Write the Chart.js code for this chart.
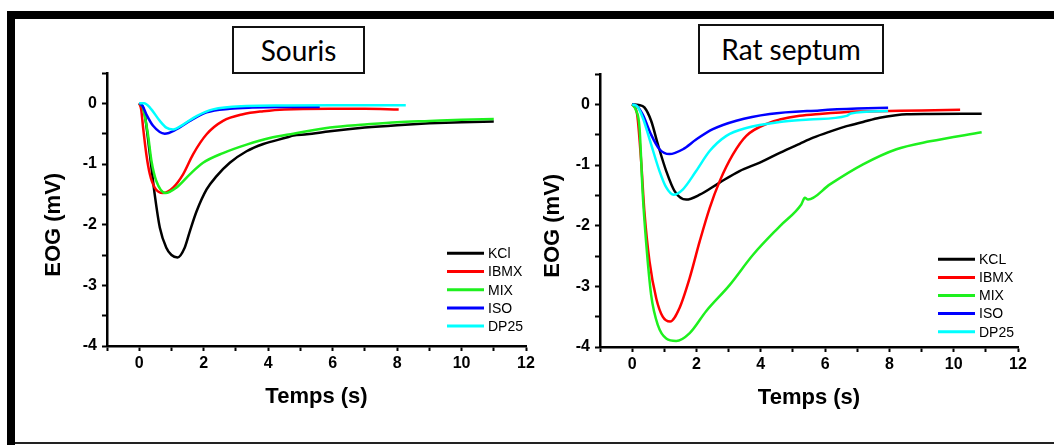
<!DOCTYPE html>
<html>
<head>
<meta charset="utf-8">
<script src="https://cdn.jsdelivr.net/npm/chart.js@4.4.1/dist/chart.umd.min.js"></script>
<style>
  body { margin: 0; background: #fff; width: 1054px; height: 445px; overflow: hidden; position: relative; }
  .bar { position: absolute; background: #000; }
  .box { position: absolute; box-sizing: border-box; border: 2px solid #111; background: #fff;
         font-family: Lato, "Open Sans", sans-serif; font-size: 28px; color: #000;
         display: flex; align-items: center; justify-content: center; }
  canvas { position: absolute; }
</style>
</head>
<body>
<div class="bar" style="left:7px;top:11px;width:1047px;height:8px"></div>
<div class="bar" style="left:7px;top:11px;width:8px;height:434px"></div>
<div class="bar" style="left:15px;top:442px;width:1039px;height:2px;background:#222"></div>

<div class="box" style="left:232px;top:26px;width:133px;height:48px">Souris</div>
<div class="box" style="left:698px;top:24px;width:186px;height:50px">Rat septum</div>

<canvas id="souris" width="505" height="390" style="left:41px;top:20px"></canvas>
<canvas id="rat" width="498" height="391" style="left:540px;top:20px"></canvas>

<script>
const seriesNames = ["KCl", "IBMX", "MIX", "ISO", "DP25"]
const ratNames = ["KCL", "IBMX", "MIX", "ISO", "DP25"]
const seriesColors = ["#000000", "#ff0000", "#1ef01e", "#0000ff", "#00ffff"]

const xTicks = [0, 2, 4, 6, 8, 10, 12]
const yTicks = [0, -1, -2, -3, -4]

// Souris
const souKclT = [0, 0.1, 0.17, 0.33, 0.48, 0.64, 0.84, 1.0, 1.19, 1.41, 1.57, 1.78, 2.09, 2.4, 2.81, 3.33, 3.85, 4.6, 4.78, 5.2, 5.92, 7, 8, 9, 10, 11]
const souKclV = [0, -0.05, -0.18, -0.84, -1.5, -2.05, -2.38, -2.5, -2.54, -2.38, -2.11, -1.78, -1.42, -1.2, -0.98, -0.79, -0.67, -0.56, -0.53, -0.51, -0.46, -0.4, -0.36, -0.33, -0.31, -0.3]
const souIbmxT = [0, 0.06, 0.12, 0.22, 0.33, 0.48, 0.74, 1.05, 1.36, 1.67, 2.09, 2.6, 3.22, 3.85, 4.5, 5.9, 7, 8.05]
const souIbmxV = [0, -0.1, -0.4, -0.84, -1.17, -1.39, -1.48, -1.39, -1.17, -0.84, -0.51, -0.29, -0.18, -0.13, -0.1, -0.09, -0.09, -0.1]
const souMixT = [0, 0.1, 0.17, 0.27, 0.38, 0.53, 0.82, 1.15, 1.57, 1.98, 2.6, 3.33, 4.05, 4.78, 5.92, 7, 8, 9, 10, 11]
const souMixV = [0, -0.05, -0.2, -0.51, -0.95, -1.28, -1.48, -1.39, -1.17, -0.98, -0.82, -0.68, -0.57, -0.5, -0.4, -0.35, -0.31, -0.29, -0.27, -0.26]
const souIsoT = [0, 0.1, 0.22, 0.43, 0.79, 1.15, 1.57, 2.09, 2.81, 3.5, 4.5, 5.6]
const souIsoV = [0, -0.04, -0.18, -0.37, -0.5, -0.43, -0.29, -0.15, -0.09, -0.07, -0.06, -0.06]
const souDpT = [0, 0.15, 0.33, 0.64, 0.84, 1.05, 1.36, 1.78, 2.29, 3.33, 4.5, 6, 7, 8.27]
const souDpV = [0, 0, -0.07, -0.29, -0.4, -0.43, -0.35, -0.21, -0.1, -0.045, -0.035, -0.03, -0.03, -0.03]

// Rat septum
const ratKclT = [0, 0.2, 0.38, 0.59, 0.8, 1.06, 1.32, 1.68, 2.1, 2.72, 3.34, 3.97, 4.59, 5.21, 5.63, 6.15, 6.67, 7.18, 7.7, 8.2, 8.54, 9.26, 10.87]
const ratKclV = [0, -0.01, -0.05, -0.27, -0.66, -1.1, -1.43, -1.57, -1.49, -1.29, -1.1, -0.96, -0.8, -0.65, -0.55, -0.45, -0.36, -0.29, -0.22, -0.18, -0.165, -0.16, -0.155]
const ratIbmxT = [0, 0.15, 0.28, 0.38, 0.54, 0.75, 0.95, 1.18, 1.47, 1.79, 2.1, 2.41, 2.72, 3.13, 3.55, 4.28, 4.59, 5.21, 5.83, 7, 8, 9, 10.2]
const ratIbmxV = [0, -0.15, -0.94, -1.76, -2.59, -3.2, -3.5, -3.58, -3.36, -2.86, -2.26, -1.71, -1.27, -0.83, -0.52, -0.3, -0.25, -0.19, -0.16, -0.12, -0.11, -0.1, -0.09]
const ratMixT = [0, 0.12, 0.23, 0.33, 0.44, 0.59, 0.8, 1.06, 1.37, 1.79, 2.3, 3.03, 3.76, 4.59, 5.26, 5.37, 5.47, 6.15, 7.18, 8.22, 9.26, 10.87]
const ratMixV = [0, -0.1, -0.39, -1.49, -2.31, -3.14, -3.64, -3.86, -3.9, -3.77, -3.41, -2.98, -2.48, -2.01, -1.65, -1.54, -1.57, -1.32, -0.99, -0.74, -0.61, -0.46]
const ratIsoT = [0, 0.15, 0.33, 0.59, 0.85, 1.16, 1.58, 1.99, 2.51, 3.24, 4.28, 5.83, 7, 7.96]
const ratIsoV = [0, -0.03, -0.17, -0.5, -0.74, -0.82, -0.74, -0.58, -0.41, -0.27, -0.16, -0.1, -0.07, -0.055]
const ratDpT = [0, 0.15, 0.33, 0.59, 0.85, 1.06, 1.29, 1.58, 1.99, 2.41, 2.93, 3.55, 4.59, 5.5, 6.67, 6.8, 7.96]
const ratDpV = [0, -0.03, -0.22, -0.66, -1.1, -1.37, -1.49, -1.4, -1.1, -0.77, -0.52, -0.39, -0.29, -0.25, -0.19, -0.15, -0.11]

const fontFamily = "'Liberation Sans', Arial, sans-serif"

function toPoints(t, v) {
  return t.map((x, i) => ({ x: x, y: v[i] }))
}

const lineLegend = {
  id: "lineLegend",
  afterDraw(chart, args, opts) {
    const ctx = chart.ctx
    const x0 = chart.chartArea.right - opts.fromRight
    ctx.save()
    ctx.font = "14px " + fontFamily
    ctx.textBaseline = "middle"
    ctx.textAlign = "left"
    chart.data.datasets.forEach((ds, i) => {
      let y = opts.top + i * opts.rowHeight
      ctx.strokeStyle = ds.borderColor
      ctx.lineWidth = 3
      ctx.beginPath()
      ctx.moveTo(x0, y)
      ctx.lineTo(x0 + 37, y)
      ctx.stroke()
      ctx.fillStyle = "#000"
      ctx.fillText(ds.label, x0 + 41, y + 1)
    })
    ctx.restore()
  }
}

function makeChart(id, names, series, yWidth, padTop, legendOpts) {
  const ctx = document.getElementById(id)
  new Chart(ctx, {
    type: "line",
    data: {
      datasets: series.map((s, i) => ({
        label: names[i],
        data: toPoints(s[0], s[1]),
        borderColor: seriesColors[i],
        borderWidth: 2.5,
        pointRadius: 0,
        cubicInterpolationMode: "monotone",
        fill: false,
        order: 5 - i
      }))
    },
    options: {
      responsive: false,
      animation: false,
      devicePixelRatio: 1,
      layout: { padding: { top: padTop, right: 20, bottom: 0, left: 0 } },
      plugins: {
        legend: { display: false },
        tooltip: { enabled: false },
        lineLegend: legendOpts
      },
      scales: {
        x: {
          type: "linear",
          min: -1,
          max: 12,
          afterFit: (scale) => { scale.height = 64 },
          border: { display: true, color: "#000", width: 2.5 },
          grid: { drawOnChartArea: false, drawTicks: true, tickLength: 5, tickColor: "#000", tickWidth: 2 },
          ticks: {
            stepSize: 1,
            autoSkip: false,
            maxRotation: 0,
            padding: 3,
            color: "#000",
            font: { family: fontFamily, size: 16, weight: "bold" },
            callback: (val) => xTicks.includes(val) ? val : ""
          },
          title: {
            display: true,
            text: "Temps (s)",
            color: "#000",
            padding: { top: 0, bottom: 0 },
            font: { family: fontFamily, size: 22, weight: "bold" }
          }
        },
        y: {
          type: "linear",
          min: -4,
          max: 0.5,
          afterFit: (scale) => { scale.width = yWidth },
          border: { display: true, color: "#000", width: 2.5 },
          grid: { drawOnChartArea: false, drawTicks: true, tickLength: 5, tickColor: "#000", tickWidth: 2 },
          ticks: {
            stepSize: 0.5,
            autoSkip: false,
            padding: 5,
            color: "#000",
            font: { family: fontFamily, size: 16, weight: "bold" },
            callback: (val) => yTicks.includes(val) ? val : ""
          },
          title: {
            display: true,
            text: "EOG (mV)" + "\u00a0".repeat(5),
            color: "#000",
            padding: { top: 0, bottom: 0 },
            font: { family: fontFamily, size: 22, weight: "bold" }
          }
        }
      }
    },
    plugins: [lineLegend]
  })
}

makeChart("souris", seriesNames, [
  [souKclT, souKclV], [souIbmxT, souIbmxV], [souMixT, souMixV], [souIsoT, souIsoV], [souDpT, souDpV]
], 66, 53, { fromRight: 79, top: 233.3, rowHeight: 18.2 })

makeChart("rat", ratNames, [
  [ratKclT, ratKclV], [ratIbmxT, ratIbmxV], [ratMixT, ratMixV], [ratIsoT, ratIsoV], [ratDpT, ratDpV]
], 60, 54, { fromRight: 80, top: 239.3, rowHeight: 18.1 })
</script>
</body>
</html>
